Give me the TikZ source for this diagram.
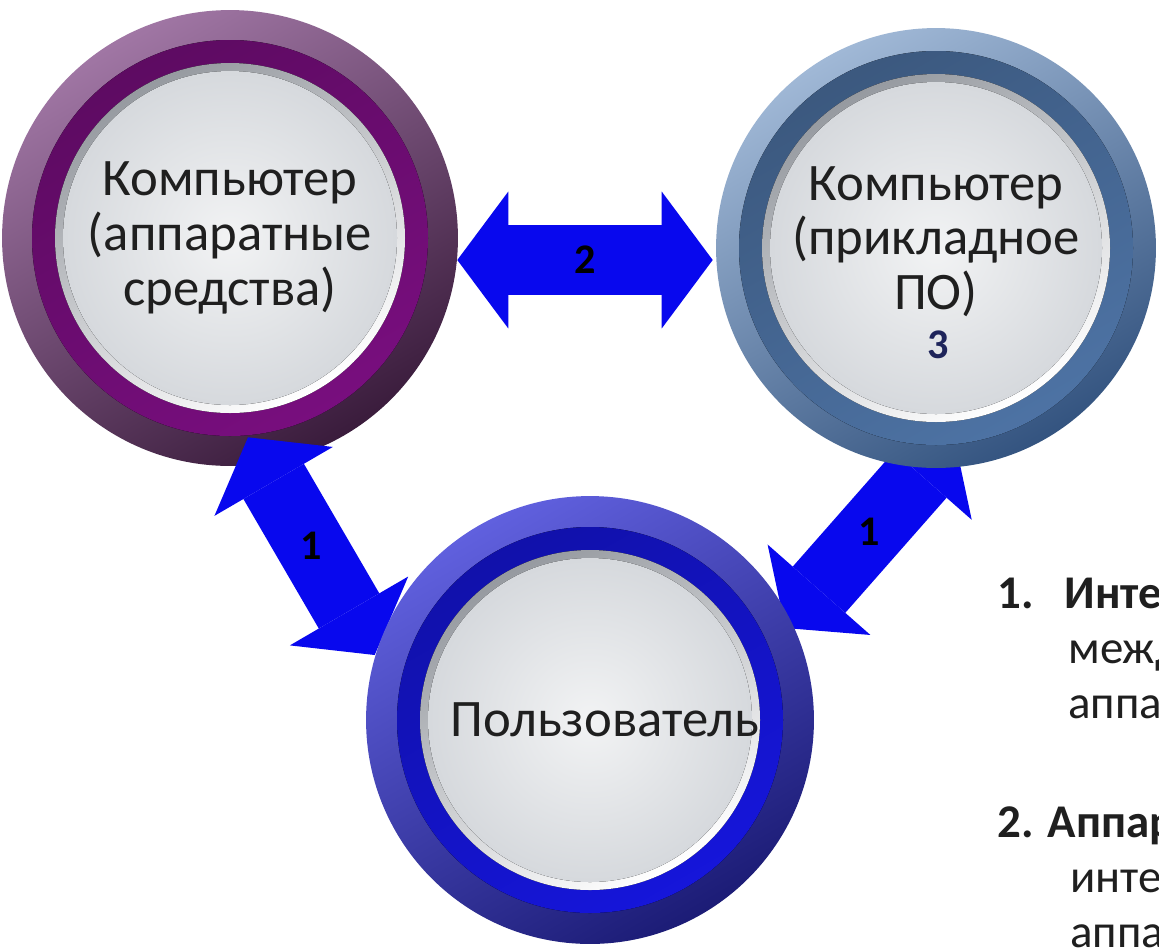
\documentclass[tikz,border=0pt]{standalone}
\usepackage{fontspec}
\setmainfont{Carlito}
\usetikzlibrary{arrows.meta}

\definecolor{arrowblue}{RGB}{8,8,238}
\definecolor{hwlight}{RGB}{160,118,164}
\definecolor{hwdark}{RGB}{58,28,60}
\definecolor{hwband}{RGB}{122,14,128}
\definecolor{swlight}{RGB}{160,184,214}
\definecolor{swdark}{RGB}{52,84,128}
\definecolor{swband}{RGB}{78,116,166}
\definecolor{uslight}{RGB}{96,96,222}
\definecolor{usdark}{RGB}{28,28,118}
\definecolor{usband}{RGB}{22,22,222}
\definecolor{discrim}{RGB}{150,154,160}
\definecolor{discin}{RGB}{242,243,244}
\definecolor{discout}{RGB}{214,217,221}
\definecolor{navy}{RGB}{30,36,90}

\pgfdeclarelayer{back}
\pgfdeclarelayer{mid}
\pgfsetlayers{back,mid,main}

\tikzset{
  bubble/.style n args={4}{circle, inner sep=0pt, align=center, text=black!88,
    font=\fontsize{30}{31.3}\selectfont,
    top color=#1, bottom color=#2, shading angle=30,
    path picture={
      \fill[top color=#3!75!black, bottom color=#3, shading angle=30]
        (path picture bounding box.center) circle ({#4+23});
      \fill[top color=discrim, bottom color=white, shading angle=30]
        (path picture bounding box.center) circle (#4);
      \fill[inner color=discin, outer color=discout]
        (path picture bounding box.center) circle ({#4-8});
    }},
  link/.style={draw=arrowblue, line width=1.4cm,
    {Triangle[length=1.02cm, width=2.74cm, line width=0pt]}-{Triangle[length=1.02cm, width=2.74cm, line width=0pt]}},
  numtag/.style={font=\fontsize{24}{24}\selectfont\bfseries, text=black},
  note/.style={align=left, inner sep=0pt, text=black!88, font=\fontsize{26.7}{31.3}\selectfont}
}

\begin{document}
\begin{tikzpicture}[x=0.02cm, y=-0.02cm]
  \useasboundingbox (0,0) rectangle (1159,948);
  \clip (0,0) rectangle (1159,948);

  % hardware
  \begin{pgfonlayer}{back}
    \fill[white] (0,0) rectangle (1159,948);
    \node[bubble={hwlight}{hwdark}{hwband}{175}, minimum size=9.12cm] (hw) at (230,238)
      {Компьютер\\(аппаратные\\средства)};
  \end{pgfonlayer}

  % software
  \node[bubble={swlight}{swdark}{swband}{174}, minimum size=8.8cm] (sw) at (936,248)
    {Компьютер\\(прикладное\\ПО)\\[-20pt]\mbox{}};
  \node[numtag, text=navy] (n3) at ([shift={(2,97)}]sw.center) {3};

  % user
  \node[bubble={uslight}{usdark}{usband}{170}, minimum size=8.96cm] (us) at (590,720)
    {\hspace*{0.6cm}Пользователь};

  % connectors
  \begin{pgfonlayer}{mid}
    \draw[link] ([shift={(-1,22)}]hw.east) -- node[numtag] (l2) {2} ([shift={(-3,12)}]sw.west);
    \draw[link] ([shift={(18,-29)}]hw.south) -- node[numtag] (l1a) {1} ([shift={(9,-65)}]us.west);
    \draw[link] ([shift={(18,-32)}]sw.south) -- node[numtag] (l1b) {1} ([shift={(-29,-92)}]us.east);
  \end{pgfonlayer}

  % notes
  \node[note, anchor=north west] (t1) at (997,578)
    {\textbf{1.\hspace{0.62cm}Интер}\\\hspace*{1.42cm}между\\\hspace*{1.42cm}аппар};
  \node[note, anchor=north west] (t2) at (997,806)
    {\textbf{2. Аппар}\\\hspace*{1.46cm}интер\\\hspace*{1.46cm}аппар};
\end{tikzpicture}
\end{document}
